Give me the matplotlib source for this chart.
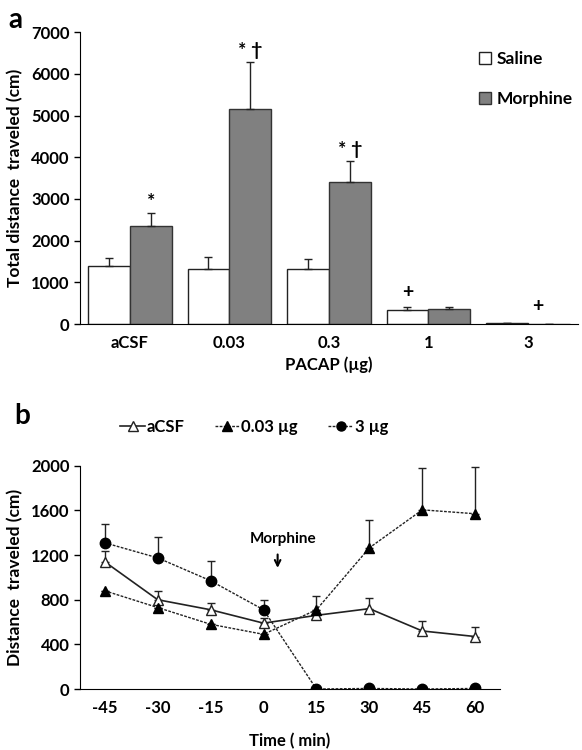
import numpy as np
import matplotlib
matplotlib.use("Agg")
import matplotlib.pyplot as plt
from matplotlib.lines import Line2D

plt.rcParams['font.family'] = ['Lato', 'DejaVu Sans']
plt.rcParams['font.weight'] = 'bold'
plt.rcParams['axes.labelweight'] = 'bold'
plt.rcParams['axes.unicode_minus'] = False

# panel a data
doses = ['aCSF', '0.03', '0.3', '1', '3']
saline = [1380, 1320, 1320, 340, 20]
saline_err = [200, 280, 240, 70, 0]
morphine = [2350, 5160, 3410, 360, 10]
morphine_err = [310, 1120, 500, 40, 0]
marks_sal = ['', '', '', '+', '']
marks_mor = ['*', '* \u2020', '* \u2020', '', '']

# panel b data
times = [-45, -30, -15, 0, 15, 30, 45, 60]
acsf = [1140, 800, 710, 590, 660, 720, 520, 470]
acsf_err = [100, 80, 60, 50, 50, 95, 90, 85]
low = [880, 730, 580, 490, 710, 1265, 1605, 1570]
low_err = [0, 0, 0, 0, 120, 250, 375, 420]
high = [1310, 1175, 970, 710, 0, 5, 0, 5]
high_err = [170, 185, 180, 90, 0, 0, 0, 0]

fs = 12

fig = plt.figure(figsize=(5.82, 7.5), dpi=100)

# ---------- a ----------
ax = fig.add_axes([0.1375, 0.568, 0.855, 0.389])
x = np.arange(len(doses))
w = 0.42
ax.bar(x - w / 2, saline, w, color='white', edgecolor='#222222', linewidth=1, label='Saline')
ax.bar(x + w / 2, morphine, w, color='#808080', edgecolor='#333333', linewidth=1, label='Morphine')
ax.errorbar(x - w / 2, saline, yerr=[np.zeros(5), saline_err], fmt='none', ecolor='#222222',
            elinewidth=1, capsize=3)
ax.errorbar(x + w / 2, morphine, yerr=[np.zeros(5), morphine_err], fmt='none', ecolor='#222222',
            elinewidth=1, capsize=3)
for i in range(len(doses)):
    if marks_sal[i]:
        ax.text(x[i] - w / 2, saline[i] + saline_err[i] + 150, marks_sal[i], ha='center',
                va='bottom', fontsize=14)
    if marks_mor[i]:
        ax.text(x[i] + w / 2, morphine[i] + morphine_err[i] + 80, marks_mor[i], ha='center',
                va='bottom', fontsize=14)
ax.text(x[4] + 0.1, 220, '+', ha='center', va='bottom', fontsize=14)

ax.set_xlim(-0.5, 4.5)
ax.set_ylim(0, 7000)
ax.set_yticks(range(0, 7001, 1000))
ax.set_xticks(x)
ax.set_xticklabels(doses)
ax.tick_params(axis='x', length=0, pad=8, labelsize=fs)
ax.tick_params(axis='y', length=4, width=1, labelsize=fs, direction='out')
ax.spines['top'].set_visible(False)
ax.spines['right'].set_visible(False)
ax.set_xlabel('PACAP (\u00b5g)', fontsize=fs, labelpad=4)
ax.set_ylabel('Total distance  traveled (cm)', fontsize=12.5, labelpad=6)
ax.legend(loc='upper left', bbox_to_anchor=(0.77, 0.99), frameon=False, fontsize=12.5,
          handlelength=0.7, handleheight=0.7, handletextpad=0.3, labelspacing=1.4)

fig.text(0.015, 0.99, 'a', fontsize=20, va='top')

# ---------- b ----------
bx = fig.add_axes([0.1375, 0.0813, 0.7215, 0.2977])
dot = (0, (2, 1))
bx.errorbar(times, acsf, yerr=[np.zeros(8), acsf_err], color='#222222', lw=1.2, ls='-',
            marker='^', ms=7.5, mfc='white', mec='#222222', capsize=3, elinewidth=1)
bx.errorbar(times, low, yerr=[np.zeros(8), low_err], color='#222222', lw=1, ls=dot,
            marker='^', ms=7.5, mfc='black', mec='black', capsize=3, elinewidth=1)
bx.errorbar(times, high, yerr=[np.zeros(8), high_err], color='#222222', lw=1, ls=dot,
            marker='o', ms=7.5, mfc='black', mec='black', capsize=3, elinewidth=1)
bx.set_xlim(-52, 67)
bx.set_ylim(0, 2000)
bx.set_yticks(range(0, 2001, 400))
bx.set_xticks(times)
bx.tick_params(axis='x', length=0, pad=8, labelsize=fs)
bx.tick_params(axis='y', length=4, width=1, labelsize=fs, direction='out')
bx.spines['top'].set_visible(False)
bx.spines['right'].set_visible(False)
bx.set_xlabel('Time ( min)', fontsize=fs, labelpad=12)
bx.set_ylabel('Distance  traveled (cm)', fontsize=12.5, labelpad=6)
bx.text(5.5, 1340, 'Morphine', ha='center', va='center', fontsize=11)
bx.annotate('', xy=(4, 1060), xytext=(4, 1230),
            arrowprops=dict(arrowstyle='->', color='black', lw=1.5))

handles = [
    Line2D([], [], color='#222222', lw=1.2, ls='-', marker='^', ms=6.5, mfc='white', mec='#222222'),
    Line2D([], [], color='#222222', lw=1, ls=dot, marker='^', ms=6.5, mfc='black', mec='black'),
    Line2D([], [], color='#222222', lw=1, ls=dot, marker='o', ms=6.5, mfc='black', mec='black'),
]
bx.legend(handles, ['aCSF', '0.03 \u00b5g', '3 \u00b5g'], loc='lower left',
          bbox_to_anchor=(0.06, 1.07), ncol=3, frameon=False, fontsize=fs,
          handlelength=1.5, handletextpad=0.1, columnspacing=1.8)

fig.text(0.025, 0.445, 'b', fontsize=20, va='center')

fig.savefig('out.png', dpi=100)
